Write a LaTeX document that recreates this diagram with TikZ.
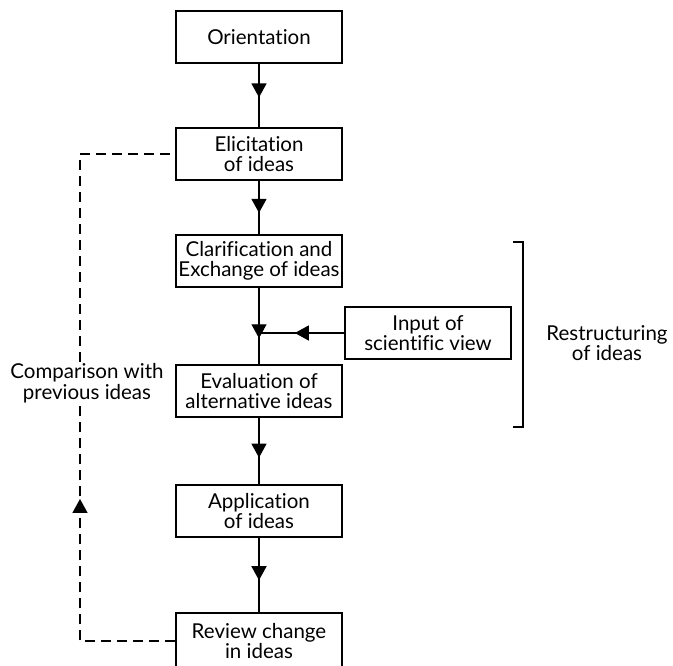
\documentclass[tikz,border=0pt]{standalone}
\usepackage{fontspec}
\setmainfont{Lato}[Ligatures=NoCommon]
\usetikzlibrary{arrows.meta,decorations.markings}
\begin{document}
\begin{tikzpicture}[x=1pt,y=-1pt,line width=1.4pt,
  box/.style={draw,minimum width=166pt,minimum height=52pt,inner sep=0pt,align=center,font=\fontsize{20.5}{20.5}\selectfont},
  lbl/.style={align=center,font=\fontsize{20.5}{20.5}\selectfont,inner sep=1pt},
  flow/.style={postaction={decorate},decoration={markings,mark=at position #1 with {\arrow{Triangle[length=14pt,width=15pt]}}}},
  fb/.style={dash pattern=on 10pt off 6pt}]
\useasboundingbox (0,0) rectangle (673,665);
\clip (0,0) rectangle (673,665);
\node[box] (ori) at (259,37) {Orientation};
\node[box] (eli) at (259,154) {Elicitation\\of ideas};
\node[box] (cla) at (259,261) {Clarification and\\Exchange of ideas};
\node[box] (eva) at (259,391) {Evaluation of\\alternative ideas};
\node[box] (app) at (259,511) {Application\\of ideas};
\node[box,minimum height=56pt] (rev) at (259,641) {Review change\\in ideas};
\node[box] (inp) at (428,333) {Input of\\scientific view};
\node[lbl] (cmp) at (87,383) {Comparison with\\previous ideas};
\node[lbl] (res) at (607,343) {Restructuring\\of ideas};
\coordinate (dl) at (80,641);
\coordinate (du) at (80,154);
\draw[flow=0.53] (ori) -- (eli);
\draw[flow=0.6] (eli) -- (cla);
\draw[flow=0.66] (cla) -- (eva);
\draw[flow=0.58] (inp.west) -- (inp.west -| cla.south);
\draw[flow=0.6] (eva) -- (app);
\draw[flow=0.57] (app) -- (rev);
\draw[fb] (rev.west) -- (dl) -- (dl |- cmp.south);
\path[flow=0.6] (dl) -- (dl |- cmp.south);
\draw[fb] (dl |- cmp.north) -- (du) -- (eli.west);
\draw (513,242) -- (523,242) -- (523,427) -- (513,427);
\end{tikzpicture}
\end{document}
